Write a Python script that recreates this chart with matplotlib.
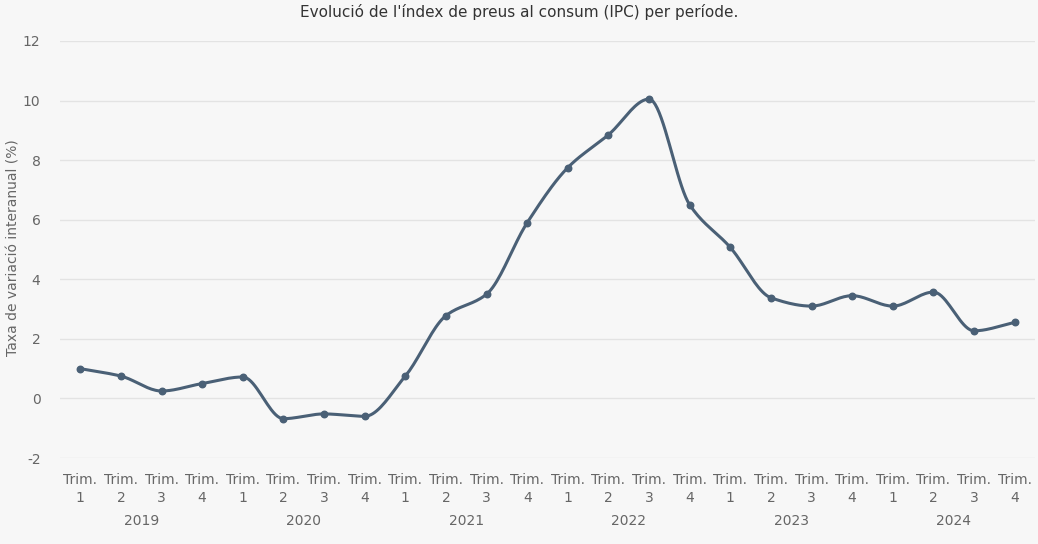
import numpy as np
import matplotlib.pyplot as plt

plt.rcParams['axes.unicode_minus'] = False

years = ['2019', '2020', '2021', '2022', '2023', '2024']
quarters = ['1', '2', '3', '4']
ipc = [1.0, 0.75, 0.25, 0.5,
       0.72, -0.68, -0.52, -0.6,
       0.75, 2.78, 3.5, 5.9,
       7.75, 8.85, 10.05, 6.5,
       5.07, 3.38, 3.1, 3.45,
       3.1, 3.57, 2.27, 2.55]


def monotone(x, y, n=20):
    # Fritsch-Carlson monotone cubic interpolation
    x = np.asarray(x, float); y = np.asarray(y, float)
    h = np.diff(x); d = np.diff(y) / h
    m = np.zeros_like(y)
    m[0], m[-1] = d[0], d[-1]
    for i in range(1, len(y) - 1):
        if d[i - 1] * d[i] <= 0:
            m[i] = 0
        else:
            m[i] = 3 * (h[i - 1] + h[i]) / ((2 * h[i] + h[i - 1]) / d[i - 1] + (h[i] + 2 * h[i - 1]) / d[i])
    xs, ys = [], []
    for i in range(len(h)):
        t = np.linspace(0, 1, n, endpoint=False)
        h00 = 2*t**3 - 3*t**2 + 1; h10 = t**3 - 2*t**2 + t
        h01 = -2*t**3 + 3*t**2; h11 = t**3 - t**2
        xs.append(x[i] + t * h[i])
        ys.append(h00*y[i] + h10*h[i]*m[i] + h01*y[i+1] + h11*h[i]*m[i+1])
    xs.append([x[-1]]); ys.append([y[-1]])
    return np.concatenate(xs), np.concatenate(ys)


bg = '#f7f7f7'
col = '#4a6076'
fig = plt.figure(figsize=(10.38, 5.44), dpi=100, facecolor=bg)
ax = fig.add_axes([60/1038, 1 - 458/544, 975/1038, 417/544], facecolor=bg)

x = np.arange(len(ipc))
sx, sy = monotone(x, ipc)
ax.plot(sx, sy, color=col, lw=2.2, zorder=3)
ax.scatter(x, ipc, color=col, s=22, zorder=4)

ax.set_xlim(-0.5, len(ipc) - 0.5)
ax.set_ylim(-2, 12)
ax.set_yticks(range(-2, 13, 2))
ax.grid(axis='y', color='#e3e3e3', lw=1)
ax.set_axisbelow(True)
for s in ax.spines.values():
    s.set_visible(False)
ax.tick_params(axis='y', length=0, labelcolor='#666666', labelsize=10, pad=14)
ax.set_xticks(x)
ax.set_xticklabels(['Trim.\n' + q for y in years for q in quarters], fontsize=10, color='#666666', linespacing=1.3)
ax.tick_params(axis='x', length=0, pad=11)
for i, yr in enumerate(years):
    ax.text(i * 4 + 1.5, -4.1, yr, ha='center', va='center', fontsize=10, color='#666666')
fig.text(14/1038, 1 - 248/544, 'Taxa de variació interanual (%)', rotation=90,
         ha='center', va='center', color='#666666', fontsize=10)
fig.text(0.5, 1 - 12/544, "Evolució de l'índex de preus al consum (IPC) per període.",
         ha='center', va='center', fontsize=11, color='#333333')
fig.savefig('out.png', dpi=100, facecolor=bg)
